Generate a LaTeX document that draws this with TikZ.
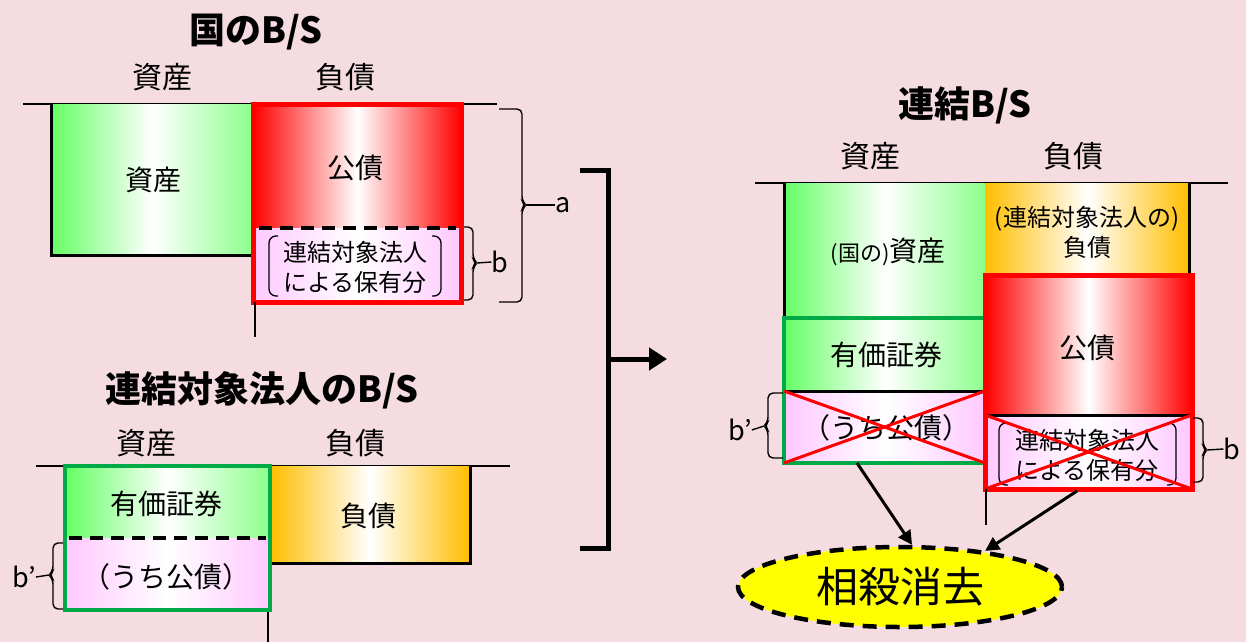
\documentclass[tikz,border=0pt]{standalone}
\usepackage{fontspec}
\setmainfont{Noto Sans CJK JP}
\usetikzlibrary{shapes.geometric,arrows.meta}
\definecolor{bgpink}{RGB}{245,220,225}
\definecolor{gA}{RGB}{100,255,100}
\definecolor{gB}{RGB}{140,255,140}
\definecolor{pk}{RGB}{255,200,255}
\definecolor{org}{RGB}{255,190,0}
\definecolor{bgreen}{RGB}{0,170,70}
\definecolor{rd}{RGB}{255,0,0}
\definecolor{ylw}{RGB}{255,255,0}
\begin{document}
\begin{tikzpicture}[x=1pt,y=-1pt,
  ttl/.style={font=\fontsize{36}{38}\selectfont\bfseries, inner sep=0},
  hdr/.style={font=\fontsize{30}{32}\selectfont, inner sep=0},
  ctx/.style={font=\fontsize{28}{30}\selectfont, inner sep=0},
  cell/.style={anchor=north west, inner sep=0},
  sm/.style={inner sep=0, font=\fontsize{24}{30}\selectfont, align=center},
  fgreen/.style={left color=gA, right color=gB, middle color=white},
  fred/.style={left color=rd, right color=rd, middle color=white},
  fpink/.style={left color=pk, right color=pk, middle color=white},
  forg/.style={left color=org, right color=org, middle color=white},
  axis/.style={line width=1.5pt},
  blk/.style={line width=3pt},
  dsh/.style={line width=3.5pt, dash pattern=on 13pt off 8pt},
  grb/.style={line width=4pt, draw=bgreen},
  rdb/.style={line width=5pt, draw=rd},
  cross/.style={line width=3pt, draw=rd},
  brk/.style={line width=1.3pt, rounded corners=7pt},
  brc/.style={line width=1.4pt, rounded corners=5pt},
  lt/.style={inner sep=0, font=\fontsize{27}{28}\selectfont},
  arr/.style={line width=3pt, -{Triangle[length=14pt,width=14pt]}}
]
\fill[bgpink] (0,0) rectangle (1246,642);
\useasboundingbox (0,0) rectangle (1246,642);

% ===== top-left: 国のB/S =====
\node[ttl] (t1) at (256,32) {国のB/S};
\node[hdr] (h1a) at (162,77) {資産};
\node[hdr] (h1b) at (345,77) {負債};
\draw[axis] (23,104) -- (497,104);
\node[cell, fgreen, minimum width=202, minimum height=151] (k1) at (51,104) {};
\node[ctx] (k1t) at (153,180) {資産};
\node[cell, fred, minimum width=208, minimum height=124] (k2) at (253,104) {};
\node[ctx] (k2t) at (355,168) {公債};
\node[cell, fpink, minimum width=208, minimum height=75] (k3) at (253,228) {};
\draw[blk] (51,104) -- (51,255) -- (253,255);
\draw[rdb] (253,104) rectangle (461,302);
\draw[dsh] (259,228) -- (456,228);
\node[sm] (k3t) at (355,267) {連結対象法人\\による保有分};
\draw[brk] (278,236) -- (269,236) -- (269,296) -- (278,296);
\draw[brk] (432,236) -- (441,236) -- (441,296) -- (432,296);
\draw[axis] (255,302) -- (255,337);
% brace b
\draw[brc] (464,227) -- (473,227) -- (473,259) -- (477,263) -- (473,267) -- (473,300) -- (464,300);
\coordinate (b1tip) at (477,263);
\node[lt] (b1) at (500,262) {b};
\draw[line width=1.4pt] (b1tip) -- (b1.west);
% brace a
\draw[brc] (499,109) -- (522,109) -- (522,201) -- (526,205) -- (522,209) -- (522,302) -- (499,302);
\coordinate (atip) at (526,205);
\node[lt] (al) at (563,205) {a};
\draw[line width=1.4pt] (atip) -- (al.west);

% ===== bottom-left: 連結対象法人のB/S =====
\node[ttl] (t2) at (262,390) {連結対象法人のB/S};
\node[hdr] (h2a) at (146,443) {資産};
\node[hdr] (h2b) at (355,443) {負債};
\draw[axis] (36,466) -- (510,466);
\node[cell, fgreen, minimum width=205, minimum height=72] (s1) at (65,466) {};
\node[ctx] (s1t) at (166,504) {有価証券};
\node[cell, fpink, minimum width=205, minimum height=72] (s2) at (65,538) {};
\node[ctx] (s2t) at (166,577) {（うち公債）};
\node[cell, forg, minimum width=200, minimum height=97] (s3) at (270,466) {};
\node[ctx] (s3t) at (368,516) {負債};
\draw[blk] (270,563) -- (470,563) -- (470,466);
\draw[grb] (65,466) rectangle (270,610);
\draw[dsh] (69,538) -- (266,538);
\draw[axis] (268,612) -- (268,642);
% brace b'
\draw[brc] (63,543) -- (53,543) -- (53,571) -- (49,575) -- (53,579) -- (53,609) -- (63,609);
\coordinate (b2tip) at (49,575);
\node[lt] (b2) at (24,577) {b’};
\draw[line width=1.4pt] (b2tip) -- (b2.east);

% ===== big bracket and arrow =====
\draw[line width=5pt] (580,170) -- (608,170) -- (608,548) -- (580,548);
\coordinate (ga) at (608,359);
\coordinate (gb) at (667,359);
\draw[line width=5pt, -{Triangle[length=18pt,width=22pt]}] (ga) -- (gb);

% ===== right: 連結B/S =====
\node[ttl] (t3) at (965,105) {連結B/S};
\node[hdr] (h3a) at (870,156) {資産};
\node[hdr] (h3b) at (1073,156) {負債};
\draw[axis] (755,183) -- (1228,183);
\node[cell, fgreen, minimum width=201, minimum height=135] (r1) at (784,183) {};
\node[ctx] (r1t) at (888,252) {{\fontsize{22}{22}\selectfont (国の)}資産};
\node[cell, fgreen, minimum width=201, minimum height=73] (r2) at (784,318) {};
\node[ctx] (r2t) at (886,355) {有価証券};
\node[cell, fpink, minimum width=201, minimum height=72] (r3) at (784,391) {};
\node[ctx] (r3t) at (886,428) {（うち公債）};
\draw[blk] (784,183) -- (784,318);
\draw[blk] (786,391) -- (983,391);
\draw[grb] (784,318) rectangle (985,463);
\draw[cross] (784,391) -- (985,463);
\draw[cross] (784,463) -- (985,391);

\node[cell, forg, minimum width=204, minimum height=92] (r4) at (985,183) {};
\node[sm] (r4t) at (1087,232) {(連結対象法人の)\\負債};
\draw[blk] (1189,183) -- (1189,275);
\node[cell, fred, minimum width=207, minimum height=140] (r5) at (985,275) {};
\node[ctx] (r5t) at (1087,348) {公債};
\node[cell, fpink, minimum width=207, minimum height=74] (r6) at (985,415) {};
\node[sm] (r6t) at (1087,455) {連結対象法人\\による保有分};
\draw[brk] (1008,423) -- (999,423) -- (999,485) -- (1008,485);
\draw[brk] (1167,423) -- (1176,423) -- (1176,485) -- (1167,485);
\draw[blk] (987,415) -- (1190,415);
\draw[rdb] (985,275) rectangle (1192,489);
\draw[cross] (985,415) -- (1192,489);
\draw[cross] (985,489) -- (1192,415);
\draw[axis] (986,489) -- (986,525);

% brace b' (right)
\draw[brc] (783,393) -- (768,393) -- (768,422) -- (764,426) -- (768,430) -- (768,458) -- (783,458);
\coordinate (b3tip) at (764,426);
\node[lt] (b3) at (740,430) {b’};
\draw[line width=1.4pt] (b3tip) -- (b3.east);
% brace b (right)
\draw[brc] (1193,418) -- (1203,418) -- (1203,446) -- (1207,450) -- (1203,454) -- (1203,482) -- (1193,482);
\coordinate (b4tip) at (1207,450);
\node[lt] (b4) at (1232,449) {b};
\draw[line width=1.4pt] (b4tip) -- (b4.west);

% ===== 相殺消去 =====
\node[ellipse, fill=ylw, draw=black, line width=4.5pt, dash pattern=on 14pt off 9pt,
      minimum width=324, minimum height=80, inner sep=0,
      font=\fontsize{42}{44}\selectfont] (el) at (900,587) {相殺消去};
\coordinate (a1s) at (857,463);
\coordinate (a2s) at (1077,491);
\draw[arr] (a1s) -- (el.74);
\draw[arr] (a2s) -- (el.23);
\end{tikzpicture}
\end{document}
